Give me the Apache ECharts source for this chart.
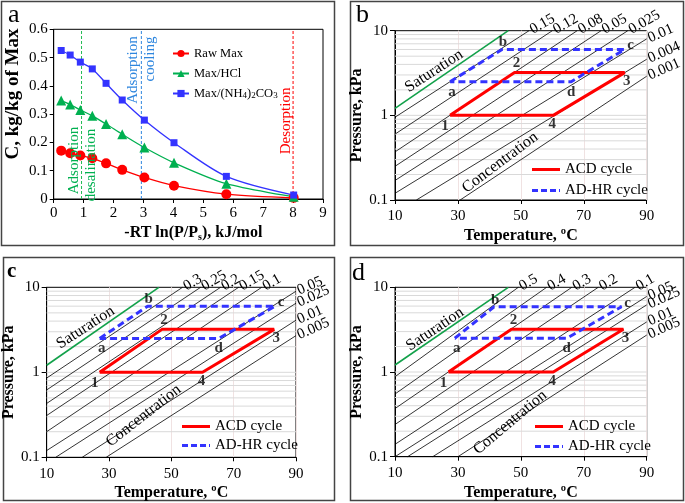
<!DOCTYPE html>
<html><head><meta charset="utf-8">
<script src="https://cdn.jsdelivr.net/npm/echarts@6/dist/echarts.min.js"></script>
<style>html,body{margin:0;padding:0;background:#fff}#c{width:685px;height:503px}</style>
</head><body><div id="c"></div>
<script>
// ---------- Panel a data ----------
const aX      = [0.25, 0.55, 0.89, 1.29, 1.75, 2.29, 3.03, 4.02, 5.77, 8.02];
const rawMax  = [0.171, 0.162, 0.154, 0.144, 0.126, 0.103, 0.076, 0.047, 0.017, 0.004];
const maxHCl  = [0.348, 0.334, 0.315, 0.294, 0.265, 0.229, 0.182, 0.128, 0.054, 0.008];
const maxNH4  = [0.525, 0.509, 0.484, 0.460, 0.409, 0.350, 0.279, 0.199, 0.080, 0.014];
const aNames  = ['Raw Max', 'Max/HCl', 'Max/(NH4)2CO3'];
const aVLines = [0.93, 2.93, 8.0];

// ---------- Panels b, c, d data ----------
const satLine = [[10, 1.21], [46, 10]];
const gridP   = [0.2,0.3,0.4,0.5,0.6,0.7,0.8,0.9,1,2,3,4,5,6,7,8,9];

const isoB_labels = ['0.15','0.12','0.08','0.05','0.025','0.01','0.004','0.001'];
const isoB = [
  [[10,0.95],[52.6,10]], [[10,0.6],[60,10]], [[10,0.37],[67.9,10]], [[10,0.25],[75.5,10]],
  [[10,0.17],[84,10]], [[10,0.12],[90,8.0]], [[16.8,0.1],[90,4.6]], [[30.7,0.1],[90,2.9]]
];
const isoC_labels = ['0.3','0.25','0.2','0.15','0.1','0.05','0.025','0.01','0.005'];
const isoC = [
  [[10,0.855],[53.6,10]], [[10,0.62],[59.4,10]], [[10,0.43],[65.8,10]], [[10,0.31],[71.6,10]],
  [[10,0.2],[79,10]], [[10,0.12],[90,9.0]], [[12.9,0.1],[90,6.5]], [[21.4,0.1],[90,4.1]], [[29.1,0.1],[90,2.7]]
];
const isoD_labels = ['0.5','0.4','0.3','0.2','0.1','0.05','0.025','0.01','0.005'];
const isoD = [
  [[10,0.88],[49.2,10]], [[10,0.55],[58.2,10]], [[10,0.37],[66.2,10]], [[10,0.24],[74.6,10]],
  [[10,0.14],[86.3,10]], [[10,0.1],[90,7.8]], [[14,0.1],[90,6.2]], [[22,0.1],[90,3.9]], [[30,0.1],[90,2.73]]
];

const acdB = [[27.5,1.0],[48,3.2],[83,3.2],[60.3,1.0],[27.5,1.0]];
const adhB = [[27.5,2.5],[44,6.0],[83,6.0],[66,2.5],[27.5,2.5]];
const acdC = [[27,1.0],[47,3.2],[83,3.2],[60,1.0],[27,1.0]];
const adhC = [[27,2.5],[42.4,6.0],[83.3,6.0],[65.2,2.5],[27,2.5]];
const acdD = [[27,1.0],[47,3.2],[82.6,3.2],[60.3,1.0],[27,1.0]];
const adhD = [[29,2.5],[41.5,5.9],[82,5.9],[64.6,2.5],[29,2.5]];
const ptNamesACD = ['1','2','3','4'];
const ptNamesADH = ['a','b','c','d'];

// ---------- style ----------
const FONT = '"Liberation Serif","Times New Roman",serif';
const C_RED = '#ff0000', C_GREEN = '#00b050', C_BLUE = '#3333ff', C_LBLUE = '#2e86de';
const grids = [
  {left:53.7, top:29.3, width:269.3, height:169.7},
  {left:395, top:30.7, width:251.7, height:169.3},
  {left:45, top:287.3, width:251, height:170},
  {left:395, top:287.3, width:251.7, height:169.4}
];
const nameStyle = {fontFamily:FONT, fontWeight:'bold', fontSize:16, color:'#000'};
const tickLab = {fontFamily:FONT, fontSize:15, color:'#000'};

const xAxes = [], yAxes = [], series = [];
xAxes.push({gridIndex:0, type:'value', min:0, max:9, interval:1,
  axisLine:{show:true, lineStyle:{color:'#000'}}, axisTick:{length:4, lineStyle:{color:'#000'}},
  axisLabel:Object.assign({margin:7}, tickLab), splitLine:{show:false},
  name:'-RT ln(P/P{s|s}), kJ/mol', nameLocation:'middle', nameGap:25,
  nameTextStyle:Object.assign({rich:{s:{fontFamily:FONT, fontWeight:'bold', fontSize:10, padding:[8,0,0,0]}}}, nameStyle, {padding:[0,0,0,10]})});
yAxes.push({gridIndex:0, type:'value', min:0, max:0.6, interval:0.1,
  axisLine:{show:true, lineStyle:{color:'#000'}}, axisTick:{length:4, lineStyle:{color:'#000'}},
  axisLabel:Object.assign({margin:6}, tickLab), splitLine:{show:false}});
for (let g = 1; g <= 3; g++) {
  xAxes.push({gridIndex:g, type:'value', min:10, max:90, interval:20,
    axisLine:{show:true, lineStyle:{color:'#000'}}, axisTick:{length:4, lineStyle:{color:'#000'}},
    axisLabel:Object.assign({margin:9}, tickLab),
    splitLine:{show:true, lineStyle:{color:'#f0e2e2', width:1}},
    name:'Temperature, ºC', nameLocation:'middle', nameGap:28, nameTextStyle:nameStyle});
  yAxes.push({gridIndex:g, type:'log', logBase:10, min:0.1, max:10,
    axisLine:{show:true, lineStyle:{color:'#000'}}, axisTick:{length:5, lineStyle:{color:'#000'}},
    axisLabel:Object.assign({margin:7}, tickLab), splitLine:{show:false},
    name:'Pressure, kPa', nameLocation:'middle', nameGap:26, nameTextStyle:nameStyle});
}

// panel a series
const aData = [rawMax, maxHCl, maxNH4];
const aCol = [C_RED, '#00b050', C_BLUE];
const aSym = ['circle', 'triangle', 'rect'];
const aSize = [10, 10, 7];
aVLines.forEach((v, i) => {
  series.push({type:'line', xAxisIndex:0, yAxisIndex:0, silent:true, z:1, symbol:'none',
    data:[[v, 0], [v, 0.6]],
    lineStyle:{color:['#22bb55', C_LBLUE, C_RED][i], type:[3,2], width:1}});
});
aData.forEach((arr, i) => {
  series.push({type:'line', name:aNames[i], xAxisIndex:0, yAxisIndex:0, smooth:0.3,
    data: aX.map((x, j) => [x, arr[j]]), symbol:aSym[i], symbolSize:aSize[i],
    lineStyle:{color:aCol[i], width:1.3}, itemStyle:{color:aCol[i]}, z:3});
});

// panels b,c,d
const isoSets = [[isoB, isoB_labels], [isoC, isoC_labels], [isoD, isoD_labels]];
const cycles = [[acdB, adhB], [acdC, adhC], [acdD, adhD]];
const ptOffACD = [[-5,11],[2,-9],[2,9],[-1,9]];
const ptOffADH = [[2,10],[1,-7],[6,-4],[0,10]];
for (let g = 1; g <= 3; g++) {
  const [lines, labs] = isoSets[g-1];
  gridP.forEach(v => series.push({type:'line', xAxisIndex:g, yAxisIndex:g, silent:true, z:0, symbol:'none',
    data:[[10, v], [90, v]], lineStyle:{color:'#d9d9d9', width:1}}));
  series.push({type:'line', xAxisIndex:g, yAxisIndex:g, data:satLine, symbol:'none', silent:true,
    lineStyle:{color:'#12a14a', width:1.6}, z:2});
  lines.forEach((pts, i) => {
    const last = pts[pts.length-1];
    const onRight = last[0] >= 90;
    series.push({type:'line', xAxisIndex:g, yAxisIndex:g, silent:true, clip:false,
      symbol:'circle', symbolSize:0, lineStyle:{color:'#000', width:0.8}, z:2,
      data: pts.map((p, j) => j === pts.length-1 ?
        {value:p, label:{show:true, formatter:labs[i], position:'right', distance:2,
          rotate: onRight ? 24 : 30, fontFamily:FONT, fontSize:15, color:'#000'}} : {value:p})});
  });
  const [acd, adh] = cycles[g-1];
  series.push({type:'line', name:'ACD cycle', xAxisIndex:g, yAxisIndex:g, data:acd, symbol:'none',
    lineStyle:{color:C_RED, width:3}, itemStyle:{color:C_RED}, z:4});
  series.push({type:'line', name:'AD-HR cycle', xAxisIndex:g, yAxisIndex:g, data:adh, symbol:'none',
    lineStyle:{color:C_BLUE, width:3, type:[7,4]}, itemStyle:{color:C_BLUE}, z:5});
  const pts = acd.slice(0,4).map((p,i)=>({value:p, label:{show:true, formatter:ptNamesACD[i], offset:ptOffACD[i]}}))
    .concat(adh.slice(0,4).map((p,i)=>({value:p, label:{show:true, formatter:ptNamesADH[i], offset:ptOffADH[i]}})));
  series.push({type:'scatter', xAxisIndex:g, yAxisIndex:g, data:pts, symbolSize:1, silent:true, z:6,
    itemStyle:{color:'rgba(0,0,0,0)'},
    label:{position:'inside', fontFamily:FONT, fontWeight:'bold', fontSize:15, color:'#000'}});
}

const legendText = {fontFamily:FONT, fontSize:15, color:'#000'};
const solidIcon = 'path://M0,0h28v3h-28z';
const dashIcon = 'path://M0,0h6v3h-6z M9,0h6v3h-6z M18,0h6v3h-6z M27,0h1v3h-1z';
const cycLegend = (left, top, gap) => ({data:[{name:'ACD cycle', icon:solidIcon},{name:'AD-HR cycle', icon:dashIcon}],
  orient:'vertical', left:left, top:top, itemWidth:28, itemHeight:3, itemGap:gap, textStyle:legendText, selectedMode:false});
const option = {
  animation:false,
  backgroundColor:'#fff',
  grid: grids.map(g => Object.assign({show:true, borderColor:'#000', borderWidth:1, backgroundColor:'#fff'}, g)),
  xAxis:xAxes, yAxis:yAxes, series:series,
  legend:[
    {data:aNames, orient:'vertical', left:167, top:42, itemWidth:16, itemHeight:9, itemGap:7,
      formatter: n => n === 'Max/(NH4)2CO3' ? 'Max/(NH{s|4}){s|2}CO{s|3}' : n,
      textStyle:{fontFamily:FONT, fontSize:12.5, color:'#000',
        rich:{s:{fontFamily:FONT, fontSize:9, padding:[5,0,0,0]}}}, selectedMode:false},
    cycLegend(527, 157, 6), cycLegend(177, 414, 4), cycLegend(530, 414, 5)
  ]
};
const chart = echarts.init(document.getElementById('c'), null, {width:685, height:503});
chart.setOption(option);

// annotations anchored to data coordinates
const notes = [
  [0, [0.68, 0.136], 'Adsorption', 90, C_GREEN, 15],
  [0, [1.25, 0.120], 'desalination', 90, C_GREEN, 15],
  [0, [2.64, 0.456], 'Adsorption', 90, C_LBLUE, 15],
  [0, [3.22, 0.495], 'cooling', 90, C_LBLUE, 15],
  [0, [7.76, 0.276], 'Desorption', 90, C_RED, 15],
  [1, [22.4, 3.34], 'Saturation', 33, '#000', 16],
  [1, [43.4, 0.277], 'Concentration', 37, '#000', 16],
  [2, [22.5, 3.37], 'Saturation', 33, '#000', 16],
  [2, [41.1, 0.308], 'Concentration', 38, '#000', 16],
  [3, [22.7, 3.2], 'Saturation', 34, '#000', 16],
  [3, [46.6, 0.254], 'Concentration', 40, '#000', 16]
];
const graphics = notes.map(n => {
  const p = chart.convertToPixel({xAxisIndex:n[0], yAxisIndex:n[0]}, n[1]);
  return {type:'text', x:p[0], y:p[1], rotation:n[3]*Math.PI/180, z:100,
    style:{text:n[2], fill:n[4], font:n[5]+'px '+FONT, textAlign:'center', textVerticalAlign:'middle'}};
});
// y-axis title of panel a (placed like the original, above centre)
graphics.push({type:'text', x:13, y:94, rotation:Math.PI/2, z:100,
  style:{text:'C, kg/kg of Max', font:'bold 19px '+FONT, fill:'#000', textAlign:'center', textVerticalAlign:'middle'}});
const frames = [[1,1,333,244],[350,1,333,244],[3,257,331,243],[350,257,333,243]];
frames.forEach(f => graphics.push({type:'rect', shape:{x:f[0]+0.5,y:f[1]+0.5,width:f[2],height:f[3]}, z:-1,
  style:{fill:'none', stroke:'#444', lineWidth:1.5}}));
[['a',8,2,26],['b',356,2,26],['c',7,261,21],['d',352,260,26]].forEach(l => graphics.push({type:'text', x:l[1], y:l[2], z:100,
  style:{text:l[0], font:(l[0]==='c'?'bold ':'')+l[3]+'px '+FONT, fill:'#000'}}));
chart.setOption({graphic:graphics});
</script></body></html>
